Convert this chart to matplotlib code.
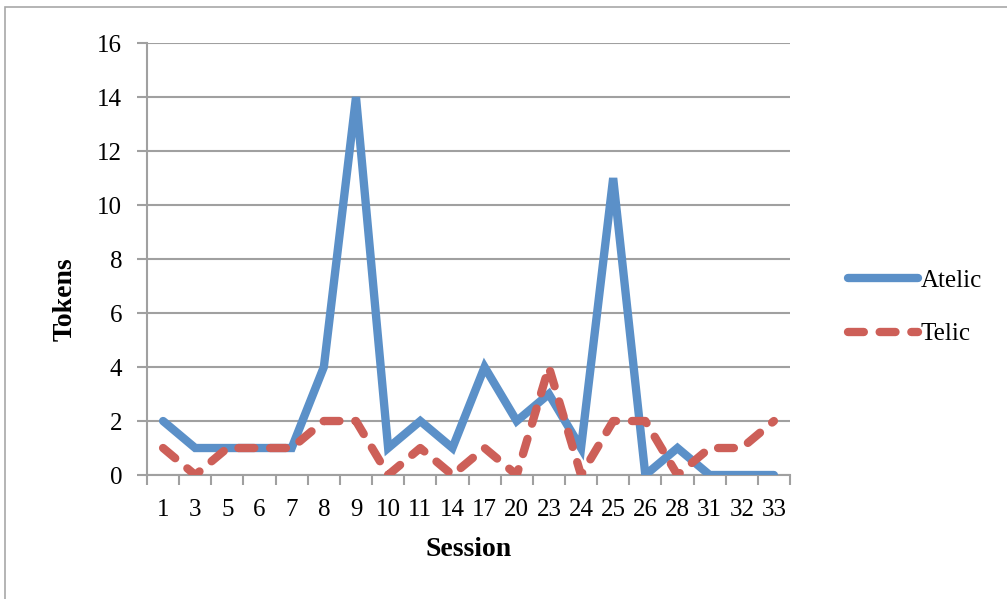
import matplotlib
matplotlib.use("Agg")
import matplotlib.pyplot as plt
from matplotlib.lines import Line2D
from matplotlib.patches import Rectangle

sessions = ["1", "3", "5", "6", "7", "8", "9", "10", "11", "14", "17", "20",
            "23", "24", "25", "26", "28", "31", "32", "33"]
atelic = [2, 1, 1, 1, 1, 4, 14, 1, 2, 1, 4, 2, 3, 1, 11, 0, 1, 0, 0, 0]
telic = [1, 0, 1, 1, 1, 2, 2, 0, 1, 0, 1, 0, 4, 0, 2, 2, 0, 1, 1, 2]

plt.rcParams['font.family'] = ['Liberation Serif', 'DejaVu Serif']

blue = "#5b90c8"
red = "#cd5f58"
grid = "#a0a0a0"
lw = 6.0
dash = (0, (1.9, 1.9))

fig = plt.figure(figsize=(10.07, 5.99), dpi=100)
fig.patches.append(Rectangle((5 / 1007, -0.1), 1.2, 1 - 7 / 599 + 0.1,
                             transform=fig.transFigure, fill=False,
                             edgecolor="#a8a8a8", linewidth=1.2))

ax = fig.add_axes([0.146, 0.207, 0.6385, 0.721])
x = list(range(len(sessions)))
ax.plot(x, atelic, color=blue, linewidth=lw, solid_capstyle="round",
        solid_joinstyle="miter", label="Atelic", zorder=3)
ax.plot(x, telic, color=red, linewidth=lw, linestyle=dash,
        dash_capstyle="round", label="Telic", zorder=4)

ax.set_xlim(-0.5, len(sessions) - 0.5)
ax.set_ylim(0, 16)
ax.set_yticks(range(0, 17, 2))
ax.set_xticks(x)
ax.set_xticklabels(sessions)
ax.set_xticks([i - 0.5 for i in range(len(sessions) + 1)], minor=True)
ax.tick_params(axis="x", which="major", length=0, labelsize=18, pad=17)
ax.tick_params(axis="x", which="minor", length=7, width=1.5, color=grid, direction="out")
ax.tick_params(axis="y", length=7, width=1.5, color=grid, direction="out",
               labelsize=18, pad=11)
ax.grid(axis="y", color=grid, linewidth=1.5)
ax.set_axisbelow(True)
for side in ("top", "right"):
    ax.spines[side].set_visible(False)
for side in ("left", "bottom"):
    ax.spines[side].set_color(grid)
    ax.spines[side].set_linewidth(1.5)

ax.set_ylabel("Tokens", fontsize=20, fontweight="bold")
ax.yaxis.set_label_coords(65 / 1007, 0.5, transform=fig.transFigure)
ax.set_xlabel("Session", fontsize=20, fontweight="bold")
ax.xaxis.set_label_coords(0.465, 1 - 550 / 599, transform=fig.transFigure)
ax.xaxis.label.set_va("center")
ax.yaxis.label.set_va("center")

handles = [Line2D([], [], color=blue, linewidth=lw, solid_capstyle="round"),
           Line2D([], [], color=red, linewidth=lw, linestyle=dash,
                  dash_capstyle="round")]
fig.legend(handles, ["Atelic", "Telic"], loc="center left",
           bbox_to_anchor=(0.82, 0.487), frameon=False, fontsize=18,
           handlelength=2.8, handletextpad=0.1, labelspacing=1.25)

fig.savefig("out.png", dpi=100)
